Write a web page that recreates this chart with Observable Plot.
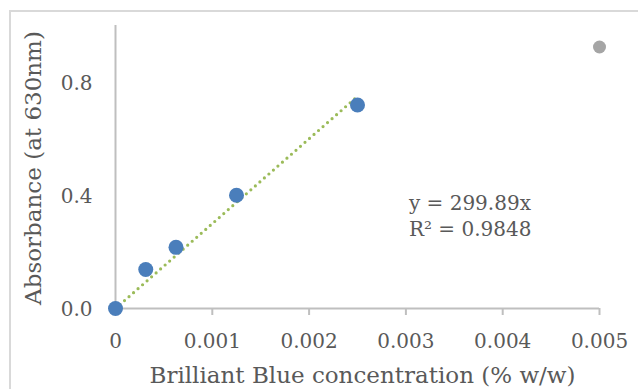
<!DOCTYPE html>
<html>
<head>
<meta charset="utf-8">
<script src="https://cdn.jsdelivr.net/npm/d3@7"></script>
<script src="https://cdn.jsdelivr.net/npm/@observablehq/plot@0.6"></script>
<style>
  html, body { margin: 0; padding: 0; background: #fff; overflow: hidden; }
  #wrap { position: relative; width: 638px; height: 389px; }
  #border { position: absolute; left: 9px; top: 10px; width: 700px; height: 500px; border: 2px solid #d9d9d9; box-sizing: border-box; }
  #chart { position: absolute; left: 0; top: 0; }
</style>
</head>
<body>
<div id="wrap"><div id="border"></div><div id="chart"></div></div>
<script>
const concentration = [0, 0.0003125, 0.000625, 0.00125, 0.0025];
const absorbance = [0, 0.138, 0.216, 0.40, 0.719];
const outlierConcentration = [0.005];
const outlierAbsorbance = [0.924];
const trendX = [0, 0.0025];
const trendY = [0, 0.7497];
const xTicks = [0, 0.001, 0.002, 0.003, 0.004, 0.005];
const xTickLabels = ["0", "0.001", "0.002", "0.003", "0.004", "0.005"];
const yTicks = [0, 0.4, 0.8];
const yTickLabels = ["0.0", "0.4", "0.8"];
const equationLines = ["y = 299.89x", "R² = 0.9848"];
const xTitle = "Brilliant Blue concentration (% w/w)";
const yTitle = "Absorbance (at 630nm)";

const points = concentration.map((c, i) => ({x: c, y: absorbance[i]}));
const outliers = outlierConcentration.map((c, i) => ({x: c, y: outlierAbsorbance[i]}));
const trend = trendX.map((c, i) => ({x: c, y: trendY[i]}));

const font = "DejaVu Serif";
const textColor = "#595959";

const chart = Plot.plot({
  width: 638,
  height: 389,
  marginLeft: 115,
  marginRight: 39,
  marginTop: 25,
  marginBottom: 81,
  style: {fontFamily: font, background: "transparent", color: textColor},
  x: {domain: [0, 0.005]},
  y: {domain: [0, 1]},
  marks: [
    Plot.ruleY([0], {stroke: "#bfbfbf", strokeWidth: 2}),
    Plot.ruleX([0], {stroke: "#bfbfbf", strokeWidth: 2}),
    Plot.axisX({ticks: xTicks, tickFormat: (d, i) => xTickLabels[i], tickSize: 7, tickPadding: 18, fontSize: 20, stroke: "#bfbfbf", strokeWidth: 2, color: textColor, label: null}),
    Plot.axisY({ticks: yTicks, tickFormat: (d, i) => yTickLabels[i], tickSize: 0, tickPadding: 23, dy: 1.5, fontSize: 20, color: textColor, label: null}),
    Plot.line(trend, {x: "x", y: "y", stroke: "#9bbb59", strokeWidth: 3.2, strokeDasharray: "0,6", strokeLinecap: "round"}),
    Plot.dot(points, {x: "x", y: "y", r: 7.5, fill: "#4a7ebb"}),
    Plot.dot(outliers, {x: "x", y: "y", r: 6.5, fill: "#a5a5a5"}),
    Plot.text([equationLines.join("\n")], {x: 0.003, y: 0.377, text: d => d, lineAnchor: "middle", textAnchor: "start", lineHeight: 1.3, dy: 13, dx: 3, fontSize: 20, fill: textColor}),
    Plot.text([xTitle], {frameAnchor: "bottom", dx: 5, dy: 67, lineAnchor: "middle", textAnchor: "middle", fontSize: 23, fill: textColor}),
    Plot.text([yTitle], {frameAnchor: "left", dx: -82, dy: 1, rotate: -90, lineAnchor: "middle", textAnchor: "middle", fontSize: 23, fill: textColor})
  ]
});
document.getElementById("chart").appendChild(chart);
</script>
</body>
</html>
